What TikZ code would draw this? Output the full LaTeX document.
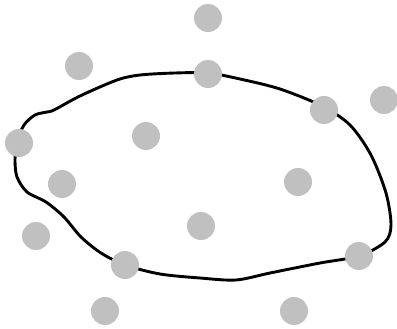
\documentclass[tikz,border=0pt]{standalone}
\begin{document}
\begin{tikzpicture}[x=1pt,y=-1pt,
  dot/.style={circle,fill=dotgray,draw=none,minimum size=28pt,inner sep=0pt},
  hull/.style={line width=2.9pt,line join=round}]
\definecolor{dotgray}{RGB}{192,192,192}
\useasboundingbox (0,0) rectangle (397,329);
\draw[hull] plot[smooth cycle,tension=0.5] coordinates {
 (17,142) (24,125) (35,115) (47,112) (54,110) (80,96) (117,80) (140,75)
 (175,73) (208,73) (240,79) (280,89) (322,106) (350,125) (371,155)
 (386,193) (391,225) (385,242) (359,256) (320,263) (270,273) (236,280)
 (200,278) (160,274) (125,265) (101,253) (81,237) (64,217) (46,202)
 (27,192) (17,177) (15,160)};
\node[dot] (n1) at (208,18) {};
\node[dot] (n2) at (79,66) {};
\node[dot] (n3) at (208,74) {};
\node[dot] (n4) at (324,110) {};
\node[dot] (n5) at (384,100) {};
\node[dot] (n6) at (146,136) {};
\node[dot] (n7) at (19,143) {};
\node[dot] (n8) at (62,184) {};
\node[dot] (n9) at (298,182) {};
\node[dot] (n10) at (36,236) {};
\node[dot] (n11) at (201,226) {};
\node[dot] (n12) at (125,265) {};
\node[dot] (n13) at (359,256) {};
\node[dot] (n14) at (105,311) {};
\node[dot] (n15) at (294,311) {};
\end{tikzpicture}
\end{document}
